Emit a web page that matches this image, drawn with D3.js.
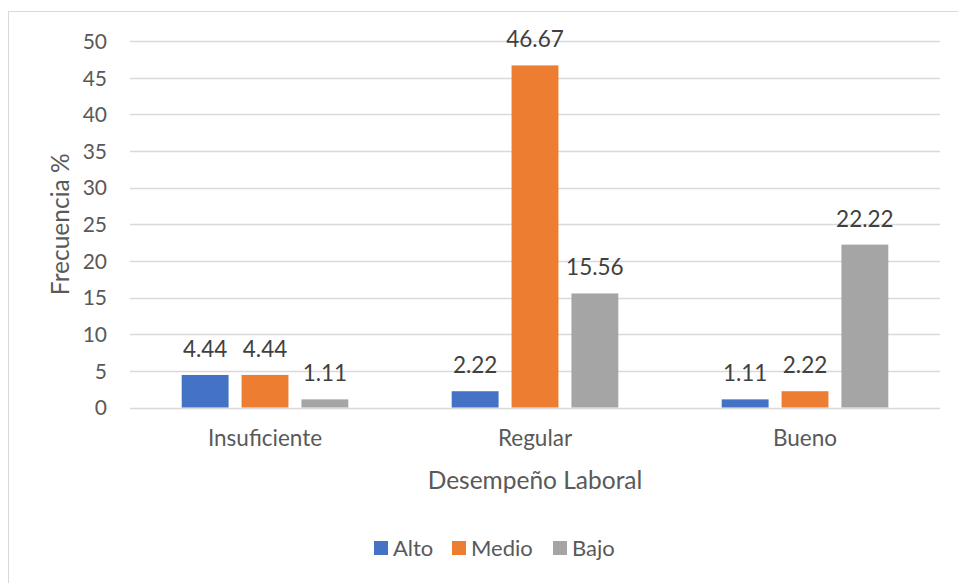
<!DOCTYPE html>
<html>
<head>
<meta charset="utf-8">
<script src="https://cdn.jsdelivr.net/npm/d3@7"></script>
<style>
  html, body { margin: 0; padding: 0; background: #fff; }
  svg { display: block; font-family: Lato, "Open Sans", sans-serif; }
</style>
</head>
<body>
<svg id="chart" width="958" height="583"></svg>
<script>
const categories = ["Insuficiente", "Regular", "Bueno"];
const seriesNames = ["Alto", "Medio", "Bajo"];
const alto  = [4.44, 2.22, 1.11];
const medio = [4.44, 46.67, 2.22];
const bajo  = [1.11, 15.56, 22.22];
const yTicks = [0, 5, 10, 15, 20, 25, 30, 35, 40, 45, 50];
const colors = ["#4472C4", "#ED7D31", "#A5A5A5"];

const seriesValues = [alto, medio, bajo];

const svg = d3.select("#chart");

// chart border
svg.append("rect")
  .attr("x", 8.5).attr("y", 11.5)
  .attr("width", 1000).attr("height", 1000)
  .attr("fill", "#fff").attr("stroke", "#D9D9D9").attr("stroke-width", 1);

const plot = { left: 130, right: 940, top: 41, bottom: 407.5 };

const x0 = d3.scaleBand().domain(categories).range([plot.left, plot.right]).padding(0);
const groupW = 166.6;
const x1 = d3.scaleBand().domain(seriesNames)
  .range([(x0.bandwidth() - groupW) / 2, (x0.bandwidth() + groupW) / 2])
  .paddingInner(0.217).paddingOuter(0);
const y = d3.scaleLinear().domain([0, 50]).range([plot.bottom, plot.top]);

// gridlines
svg.append("g")
  .selectAll("line").data(yTicks).join("line")
  .attr("x1", plot.left).attr("x2", plot.right)
  .attr("y1", d => Math.round(y(d)) + 0.5).attr("y2", d => Math.round(y(d)) + 0.5)
  .attr("stroke", "#D9D9D9").attr("stroke-width", 1.5);

// y axis labels
const yAxis = d3.axisLeft(y).tickValues(yTicks).tickSize(0).tickPadding(0);
const gy = svg.append("g").attr("transform", `translate(107,0)`).call(yAxis);
gy.select(".domain").remove();
gy.selectAll("text").attr("fill", "#595959").style("font-size", "21px")
  .style("font-family", "Lato, sans-serif").attr("dy", "0.35em");

// bars
const data = [];
categories.forEach((c, i) => {
  seriesNames.forEach((s, j) => data.push({ cat: c, series: s, value: seriesValues[j][i], color: colors[j] }));
});

const gBars = svg.append("g");
gBars.selectAll("rect").data(data).join("rect")
  .attr("x", d => x0(d.cat) + x1(d.series))
  .attr("width", x1.bandwidth())
  .attr("y", d => y(d.value))
  .attr("height", d => y(0) - y(d.value))
  .attr("fill", d => d.color);

// data labels
gBars.selectAll("text").data(data).join("text")
  .attr("x", d => x0(d.cat) + x1(d.series) + x1.bandwidth() / 2)
  .attr("y", d => y(d.value) - 18)
  .attr("text-anchor", "middle")
  .attr("fill", "#404040")
  .style("font-size", "22.5px")
  .text(d => d.value.toFixed(2));

// x axis category labels
const xAxis = d3.axisBottom(x0).tickSize(0).tickPadding(0);
const gx = svg.append("g").attr("transform", `translate(0,${plot.bottom})`).call(xAxis);
gx.select(".domain").remove();
gx.selectAll("text").attr("fill", "#595959").style("font-size", "22.5px")
  .style("font-family", "Lato, sans-serif").attr("y", 31).attr("dy", "0.35em");

// axis titles
svg.append("text")
  .attr("x", 535).attr("y", 480).attr("dy", "0.35em")
  .attr("text-anchor", "middle").attr("fill", "#595959")
  .style("font-size", "24.5px").text("Desempeño Laboral");

svg.append("text")
  .attr("transform", `translate(60,${(plot.top + plot.bottom) / 2}) rotate(-90)`)
  .attr("dy", "0.35em")
  .attr("text-anchor", "middle").attr("fill", "#595959")
  .style("font-size", "24.5px").text("Frecuencia %");

// legend
const legendX = [374, 452, 553];
const lg = svg.append("g").selectAll("g").data(seriesNames).join("g")
  .attr("transform", (d, i) => `translate(${legendX[i]},548)`);
lg.append("rect").attr("x", 0).attr("y", -7).attr("width", 14).attr("height", 14)
  .attr("fill", (d, i) => colors[i]);
lg.append("text").attr("x", 19).attr("dy", "0.35em").attr("fill", "#595959")
  .style("font-size", "22px").text(d => d);
</script>
</body>
</html>
